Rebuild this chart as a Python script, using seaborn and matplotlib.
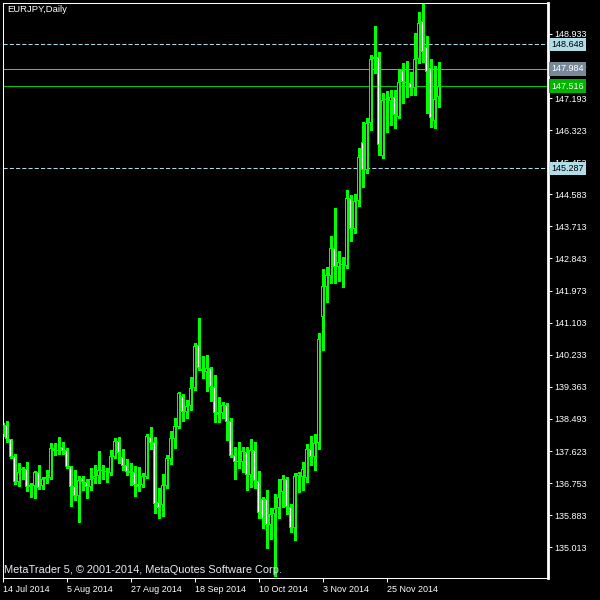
"""
EURJPY daily candlestick chart in the MetaTrader 5 "green on black" look.
Saves out.png (600x600).
"""

import matplotlib
matplotlib.use("Agg")
import matplotlib.pyplot as plt
import matplotlib.transforms as mtransforms
import seaborn as sns
import pandas as pd
import numpy as np

SYMBOL = "EURJPY,Daily"
FOOTER = "MetaTrader 5, \u00a9 2001-2014, MetaQuotes Software Corp."
FIRST_DAY = "2014-07-14"

OPEN = [138.08, 138.33, 137.94, 137.49, 136.79, 137.13, 137.13, 136.64, 136.68, 137.05,
        136.68, 136.86, 136.90, 137.70, 137.66, 137.72, 137.66, 137.22, 136.67, 136.41,
        136.88, 136.78, 136.66, 136.86, 136.95, 137.08, 137.06, 137.04, 137.47, 137.90,
        137.45, 137.24, 137.08, 137.05, 136.73, 136.70, 136.93, 137.99, 137.86, 136.25,
        136.16, 136.68, 137.40, 137.95, 138.28, 139.12, 138.69, 138.83, 139.34, 140.50,
        139.84, 139.77, 139.88, 139.37, 138.67, 138.65, 138.87, 138.44, 137.52, 137.35,
        137.32, 137.59, 136.97, 137.65, 136.81, 136.32, 136.31, 135.62, 135.91, 136.07,
        136.52, 136.86, 136.10, 135.54, 136.95, 136.93, 136.90, 137.67, 137.47, 137.83,
        141.27, 142.08, 142.38, 143.12, 142.60, 142.67, 142.65, 144.48, 143.64, 144.39,
        145.99, 145.23, 146.51, 148.25, 148.30, 145.61, 147.14, 147.12, 147.23, 146.67,
        147.96, 147.60, 147.60, 147.46, 148.25, 149.29, 148.59, 148.00, 146.56, 147.23]
HIGH = [138.38, 138.44, 137.95, 137.53, 137.29, 137.18, 137.33, 136.75, 137.08, 137.24,
        136.92, 137.11, 137.83, 137.83, 137.99, 137.86, 137.70, 137.22, 137.11, 136.95,
        136.95, 136.86, 137.17, 137.24, 137.62, 137.24, 137.15, 137.65, 137.97, 138.01,
        137.67, 137.40, 137.29, 137.22, 137.20, 137.02, 138.09, 138.28, 138.01, 136.61,
        137.00, 137.52, 138.17, 138.53, 139.21, 139.16, 139.01, 139.64, 140.56, 141.24,
        140.20, 140.23, 139.91, 139.69, 139.10, 138.96, 138.93, 138.51, 137.74, 137.88,
        137.74, 137.74, 137.94, 137.88, 137.08, 136.38, 136.57, 136.07, 136.45, 136.86,
        136.97, 136.91, 136.18, 137.02, 137.06, 137.33, 137.81, 138.03, 138.08, 140.82,
        142.56, 142.62, 143.45, 144.21, 143.05, 142.87, 144.70, 144.57, 144.59, 145.85,
        146.53, 146.65, 148.36, 149.15, 148.45, 147.32, 147.39, 147.41, 147.41, 147.96,
        148.14, 148.20, 147.91, 148.97, 149.52, 149.78, 148.88, 148.25, 148.05, 148.18]
LOW = [138.03, 137.88, 137.44, 136.72, 136.68, 136.86, 136.54, 136.38, 136.34, 136.59,
       136.59, 136.75, 136.86, 137.52, 137.54, 137.54, 137.17, 136.14, 136.30, 135.71,
       136.57, 136.34, 136.57, 136.75, 136.75, 136.86, 136.79, 136.97, 137.43, 137.29,
       137.11, 136.97, 136.70, 136.39, 136.55, 136.64, 136.90, 137.67, 135.95, 135.80,
       135.87, 136.61, 137.27, 137.71, 138.24, 138.45, 138.51, 138.74, 139.28, 139.82,
       139.60, 139.26, 138.98, 138.40, 138.42, 138.52, 137.92, 137.47, 136.86, 137.15,
       137.06, 136.57, 136.64, 136.61, 135.80, 135.53, 135.00, 135.23, 134.23, 135.80,
       136.11, 135.91, 135.44, 135.21, 136.52, 136.57, 136.79, 137.24, 137.11, 137.67,
       140.36, 141.67, 142.17, 142.17, 142.24, 142.08, 142.58, 143.33, 143.53, 144.27,
       144.78, 145.17, 146.33, 147.87, 145.65, 145.56, 146.28, 146.47, 146.39, 146.66,
       147.07, 147.23, 147.28, 147.28, 148.15, 148.18, 146.78, 146.42, 146.39, 146.96]
CLOSE = [138.33, 137.94, 137.47, 136.79, 137.06, 137.10, 136.64, 136.69, 137.05, 136.61,
         136.86, 136.92, 137.70, 137.61, 137.61, 137.63, 137.20, 136.66, 136.41, 136.84,
         136.78, 136.66, 136.86, 136.95, 137.11, 137.07, 137.07, 137.49, 137.90, 137.58,
         137.23, 137.06, 137.04, 136.70, 136.66, 136.95, 138.03, 137.85, 136.19, 136.09,
         136.70, 137.44, 137.98, 138.30, 139.19, 138.69, 138.85, 139.32, 140.47, 139.87,
         139.79, 139.87, 139.37, 138.66, 138.60, 138.87, 138.42, 137.50, 137.32, 137.32,
         137.61, 136.97, 137.65, 136.81, 135.93, 135.78, 135.62, 135.91, 136.07, 136.37,
         136.86, 136.10, 135.54, 136.95, 137.04, 137.13, 137.67, 137.47, 137.83, 140.65,
         142.10, 142.40, 143.12, 142.60, 142.74, 142.68, 144.48, 143.64, 144.40, 145.59,
         145.23, 146.51, 148.26, 148.30, 145.92, 147.14, 147.13, 147.22, 146.72, 147.62,
         147.62, 147.62, 147.46, 148.25, 149.22, 148.45, 147.91, 146.65, 147.16, 147.516]

PRICE_TICKS = [135.013, 135.883, 136.753, 137.623, 138.493, 139.363, 140.233, 141.103,
               141.973, 142.843, 143.713, 144.583, 145.453, 146.323, 147.193, 148.063,
               148.933]

LEVEL_PRICES = [148.648, 147.984, 147.516, 145.287]
LEVEL_LINE_COLORS = ["#add8e6", "#8796a6", "#00c800", "#add8e6"]
LEVEL_LINE_STYLES = ["dashed", "solid", "solid", "dashed"]
LEVEL_BOX_COLORS = ["#b0dde8", "#778899", "#00b400", "#b0dde8"]
LEVEL_TEXT_COLORS = ["black", "white", "white", "black"]

GREEN = "#00ff00"

sns.set_theme(style="dark", rc={
    "axes.facecolor": "black",
    "figure.facecolor": "black",
    "axes.edgecolor": "white",
    "axes.grid": False,
    "text.color": "white",
    "xtick.color": "white",
    "ytick.color": "white",
})
plt.rcParams["font.family"] = ["Liberation Sans", "DejaVu Sans"]

n = len(CLOSE)
x = np.arange(n)
o, h, l, c = (np.array(v) for v in (OPEN, HIGH, LOW, CLOSE))
dates = pd.bdate_range(FIRST_DAY, periods=n)

fig = plt.figure(figsize=(6, 6), dpi=100)
ax = fig.add_axes([3 / 600, 22 / 600, 545 / 600, 575 / 600])
ymin, ymax = 134.18, 149.77
px = (ymax - ymin) / 575  # price per screen pixel

# level lines behind the candles
for price, col, ls in zip(LEVEL_PRICES, LEVEL_LINE_COLORS, LEVEL_LINE_STYLES):
    kw = {"dashes": (4, 2)} if ls == "dashed" else {}
    ax.axhline(price, color=col, linewidth=0.75, linestyle=ls, zorder=1, **kw)

# candles: wick, green body frame, then inner fill (bull = black, bear = white)
ax.vlines(x, l, h, color=GREEN, linewidth=0.75, zorder=2, antialiased=False)
bottom = np.minimum(o, c)
span = np.maximum(np.abs(c - o), px)
ax.bar(x, span, bottom=bottom, width=0.75, color=GREEN, linewidth=0,
       zorder=3, antialiased=False)
fills = np.where(c >= o, "black", "white")
inner = np.maximum(span - 2 * px, 0)
ax.bar(x, inner, bottom=bottom + px, width=0.25, color=fills, linewidth=0,
       zorder=4, antialiased=False)

ax.set_xlim(0.15, 136.4)
ax.set_ylim(ymin, ymax)

# price scale on the right
ax.yaxis.tick_right()
ax.set_yticks(PRICE_TICKS)
ax.set_yticklabels([f"{p:.3f}" for p in PRICE_TICKS])
ax.tick_params(axis="y", right=True, left=False, labelright=True, labelleft=False,
               length=3, width=0.75, pad=1.5, labelsize=6.5, colors="white")

# dates along the bottom, every 16 bars
tick_idx = x[::16]
ax.set_xticks(tick_idx)
ax.set_xticklabels([f"{d.day} {d:%b %Y}" for d in dates[tick_idx]])
ax.tick_params(axis="x", bottom=True, length=3, width=0.75, pad=2,
               labelsize=6.5, colors="white")
for lab in ax.get_xticklabels():
    lab.set_horizontalalignment("left")

for side in ["left", "top", "bottom"]:
    ax.spines[side].set_color("white")
    ax.spines[side].set_linewidth(0.75)
ax.spines["right"].set_color("white")
ax.spines["right"].set_linewidth(2)

# price tags on the scale
trans = mtransforms.blended_transform_factory(ax.transAxes, ax.transData)
for price, box, tcol in zip(LEVEL_PRICES, LEVEL_BOX_COLORS, LEVEL_TEXT_COLORS):
    ax.text(1.006, price, f"{price:.3f}", transform=trans, ha="left", va="center",
            fontsize=6.5, color=tcol, clip_on=False, zorder=6,
            bbox=dict(boxstyle="square,pad=0.25", facecolor=box, edgecolor="none"))

fig.text(7 / 600, 1 - 10 / 600, SYMBOL, fontsize=6.8, color="white", va="center", ha="left")
fig.text(4 / 600, 1 - 570 / 600, FOOTER, fontsize=7.9, color="#e6eaf6", va="center", ha="left")

fig.savefig("out.png", dpi=100, facecolor="black")
plt.close(fig)
